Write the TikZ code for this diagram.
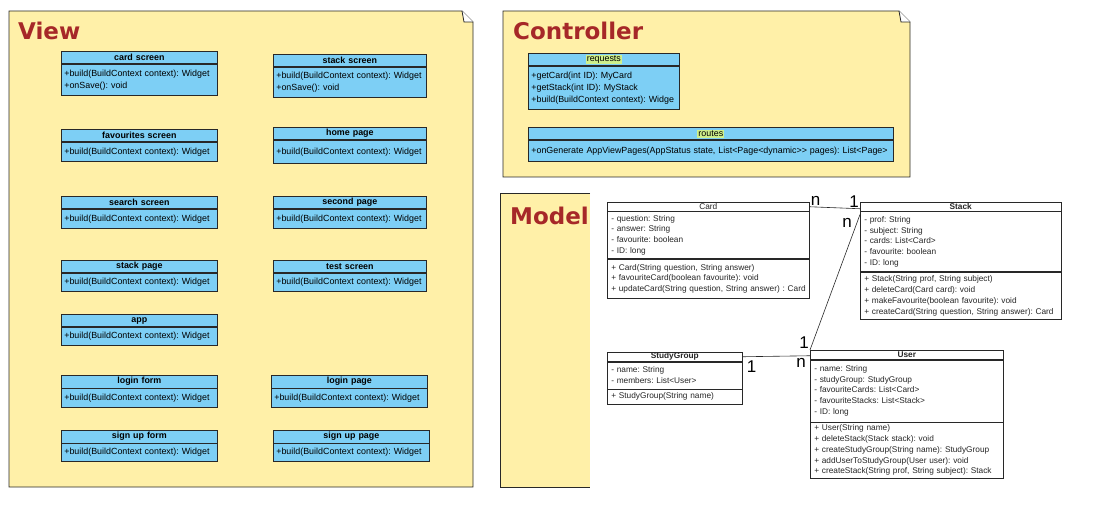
\documentclass[tikz,border=0pt]{standalone}
\usepackage{fontspec}
\setmainfont{Liberation Sans}
\newfontfamily\titlefont{DejaVu Sans}
\usepackage{xcolor}
\usetikzlibrary{shapes,positioning}

\definecolor{pkgfill}{RGB}{255,240,168}
\definecolor{pkgtitle}{RGB}{166,40,40}
\definecolor{clsfill}{RGB}{125,207,245}
\definecolor{hlgreen}{RGB}{206,240,140}
\definecolor{umlline}{RGB}{40,40,40}

\newcommand{\hilite}[1]{{\setlength{\fboxsep}{1pt}\colorbox{hlgreen}{#1}}}

\begin{document}
\begin{tikzpicture}[
    x=1pt, y=-1pt,
    pkg/.style={draw=umlline, line width=0.8pt, fill=pkgfill},
    pkgname/.style={font=\titlefont\bfseries\fontsize{23}{26}\selectfont, text=pkgtitle, anchor=north west, inner sep=0pt},
    vhead/.style={rectangle, draw=umlline, line width=0.7pt, fill=clsfill, font=\bfseries\fontsize{8.9}{11}\selectfont\frenchspacing, anchor=north west, align=center, inner xsep=3pt, inner ysep=0pt, minimum height=12.5pt},
    vbody/.style={rectangle, draw=umlline, line width=0.7pt, fill=clsfill, font=\fontsize{8.9}{12}\selectfont\frenchspacing, align=left, inner xsep=3pt, inner ysep=0pt},
    mhead/.style={rectangle, draw=umlline, line width=0.5pt, fill=white, text=black!85, font=\bfseries\fontsize{8.3}{10.8}\selectfont\frenchspacing, anchor=north west, align=center, inner xsep=4pt, inner ysep=0pt, minimum height=9pt},
    mbody/.style={rectangle, draw=umlline, line width=0.5pt, fill=white, text=black!85, font=\fontsize{8.3}{10.8}\selectfont\frenchspacing, align=left, inner xsep=4pt, inner ysep=0pt},
    assoc/.style={draw=umlline, line width=0.6pt},
    mult/.style={font=\fontsize{17}{17}\selectfont, inner sep=1pt}
]
\useasboundingbox (0,0) rectangle (1096,505);

% View package
\draw[pkg] (9,11) -- (462,11) -- (473,22) -- (473,487) -- (9,487) -- cycle;
\draw[draw=umlline, line width=0.8pt, fill=white] (462,11) -- (464,22) -- (473,22);
\node[pkgname] (viewtitle) at (18,22) {View};

% View - left column
\node[vhead, text width=150pt] (cardscr) at (61,51) {card screen};
\node[vbody, text width=150pt, minimum height=31pt, below=0pt of cardscr] (cardscr-ops) {+build(BuildContext context): Widget\\+onSave(): void};
\node[vhead, text width=150pt] (favscr) at (61,129) {favourites screen};
\node[vbody, text width=150pt, minimum height=19pt, below=0pt of favscr] (favscr-ops) {+build(BuildContext context): Widget};
\node[vhead, text width=150pt] (searchscr) at (61,196) {search screen};
\node[vbody, text width=150pt, minimum height=19pt, below=0pt of searchscr] (searchscr-ops) {+build(BuildContext context): Widget};
\node[vhead, text width=150pt] (stackpg) at (61,260) {stack page};
\node[vbody, text width=150pt, minimum height=18pt, below=0pt of stackpg] (stackpg-ops) {+build(BuildContext context): Widget};
\node[vhead, text width=150pt] (app) at (61,314) {app};
\node[vbody, text width=150pt, minimum height=18pt, below=0pt of app] (app-ops) {+build(BuildContext context): Widget};
\node[vhead, text width=150pt] (loginform) at (61,375) {login form};
\node[vbody, text width=150pt, minimum height=19pt, below=0pt of loginform] (loginform-ops) {+build(BuildContext context): Widget};
\node[vhead, text width=150pt] (signupform) at (61,430) {sign up form};
\node[vbody, text width=150pt, minimum height=18pt, below=0pt of signupform] (signupform-ops) {+build(BuildContext context): Widget};

% View - right column
\node[vhead, text width=147pt] (stackscr) at (273,54) {stack screen};
\node[vbody, text width=147pt, minimum height=30pt, below=0pt of stackscr] (stackscr-ops) {+build(BuildContext context): Widget\\+onSave(): void};
\node[vhead, text width=147pt] (homepg) at (273,127) {home page};
\node[vbody, text width=147pt, minimum height=23pt, below=0pt of homepg] (homepg-ops) {+build(BuildContext context): Widget};
\node[vhead, text width=147pt] (secondpg) at (273,196) {second page};
\node[vbody, text width=147pt, minimum height=19pt, below=0pt of secondpg] (secondpg-ops) {+build(BuildContext context): Widget};
\node[vhead, text width=147pt] (testscr) at (273,260) {test screen};
\node[vbody, text width=147pt, minimum height=18pt, below=0pt of testscr] (testscr-ops) {+build(BuildContext context): Widget};
\node[vhead, text width=150pt] (loginpg) at (271,375) {login page};
\node[vbody, text width=150pt, minimum height=19pt, below=0pt of loginpg] (loginpg-ops) {+build(BuildContext context): Widget};
\node[vhead, text width=150pt] (signuppg) at (273,430) {sign up page};
\node[vbody, text width=150pt, minimum height=18pt, below=0pt of signuppg] (signuppg-ops) {+build(BuildContext context): Widget};

% Controller package
\draw[pkg] (503,11) -- (899,11) -- (910,22) -- (910,177) -- (503,177) -- cycle;
\draw[draw=umlline, line width=0.8pt, fill=white] (899,11) -- (901,22) -- (910,22);
\node[pkgname] (ctrltitle) at (513,22) {Controller};

\node[vhead, text width=145pt, font=\fontsize{8.9}{11}\selectfont] (requests) at (528,53) {\hilite{requests}};
\node[vbody, text width=145pt, minimum height=43pt, below=0pt of requests] (requests-ops) {+getCard(int ID): MyCard\\+getStack(int ID): MyStack\\+build(BuildContext context): Widge};
\node[vhead, text width=359pt, font=\fontsize{8.9}{11}\selectfont] (routes) at (528,127) {\hilite{routes}};
\node[vbody, text width=359pt, minimum height=21pt, below=0pt of routes] (routes-ops) {+onGenerate AppViewPages(AppStatus state, List<Page<dynamic>{}> pages): List<Page>};

% Model package (covered on the right by the class area)
\fill[pkgfill] (500,193) rectangle (590,487);
\draw[draw=umlline, line width=0.8pt] (590,193) -- (500,193) -- (500,487) -- (590,487);
\node[pkgname] (modeltitle) at (510,207) {Model};

% Model classes
\node[mhead, text width=194pt, font=\fontsize{8.3}{10.8}\selectfont] (card) at (607,202) {Card};
\node[mbody, text width=194pt, minimum height=47pt, below=0pt of card] (card-attr) {- question: String\\- answer: String\\- favourite: boolean\\- ID: long};
\node[mbody, text width=194pt, minimum height=39pt, below=0pt of card-attr] (card-ops) {+ Card(String question, String answer)\\+ favouriteCard(boolean favourite): void\\\mbox{+ updateCard(String question, String answer) : Card}};

\node[mhead, text width=193pt] (stack) at (860,202) {Stack};
\node[mbody, text width=193pt, minimum height=60pt, below=0pt of stack] (stack-attr) {- prof: String\\- subject: String\\- cards: List<Card>\\- favourite: boolean\\- ID: long};
\node[mbody, text width=193pt, minimum height=47pt, below=0pt of stack-attr] (stack-ops) {+ Stack(String prof, String subject)\\+ deleteCard(Card card): void\\+ makeFavourite(boolean favourite): void\\+ createCard(String question, String answer): Card};

\node[mhead, text width=127pt] (sgroup) at (607,352) {StudyGroup};
\node[mbody, text width=127pt, minimum height=27pt, below=0pt of sgroup] (sgroup-attr) {- name: String\\- members: List<User>};
\node[mbody, text width=127pt, minimum height=15pt, below=0pt of sgroup-attr] (sgroup-ops) {+ StudyGroup(String name)};

\node[mhead, text width=185pt] (user) at (810,350) {User};
\node[mbody, text width=185pt, minimum height=62pt, below=0pt of user] (user-attr) {- name: String\\- studyGroup: StudyGroup\\- favouriteCards: List<Card>\\- favouriteStacks: List<Stack>\\- ID: long};
\node[mbody, text width=185pt, minimum height=56pt, below=0pt of user-attr] (user-ops) {+ User(String name)\\+ deleteStack(Stack stack): void\\+ createStudyGroup(String name): StudyGroup\\+ addUserToStudyGroup(User user): void\\+ createStack(String prof, String subject): Stack};

% Associations
\draw[assoc] (card.east) -- node[mult, at start, above right] {n} node[mult, at end, above left] {1} ([yshift=-2pt]stack.west);
\draw[assoc] (user.north west) -- node[mult, at start, above left] {1} node[mult, at end, below left, xshift=-7pt, yshift=-3pt] {n} ([yshift=-3pt]stack-attr.north west);
\draw[assoc] (sgroup.east) -- node[mult, at start, below right, xshift=3pt, yshift=-3pt] {1} node[mult, at end, below left, xshift=-3pt, yshift=-1pt] {n} ([yshift=-1pt]user.west);

\end{tikzpicture}
\end{document}
